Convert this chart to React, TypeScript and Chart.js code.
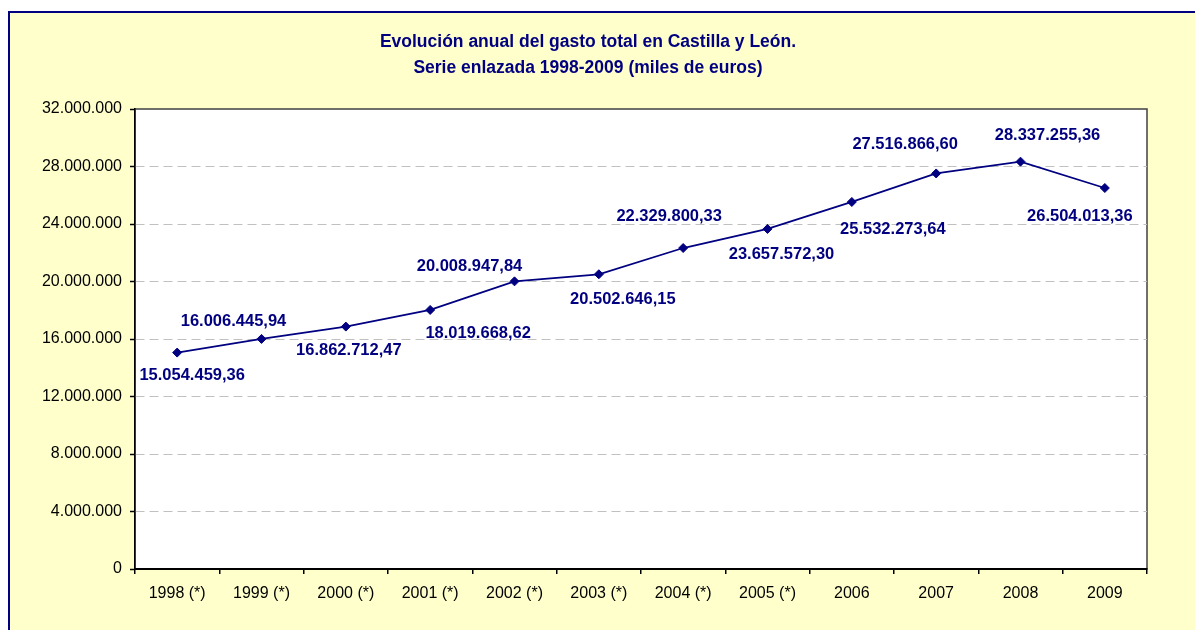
import React, { useEffect, useRef } from "react";
import { Chart, registerables } from "chart.js";

Chart.register(...registerables);

const TITLE_LINES = [
  "Evolución anual del gasto total en Castilla y León.",
  "Serie enlazada 1998-2009 (miles de euros)",
];

const CATEGORIES = [
  "1998 (*)", "1999 (*)", "2000 (*)", "2001 (*)", "2002 (*)", "2003 (*)",
  "2004 (*)", "2005 (*)", "2006", "2007", "2008", "2009",
];

const GASTO_TOTAL = [
  15054459.36, 16006445.94, 16862712.47, 18019668.62, 20008947.84, 20502646.15,
  22329800.33, 23657572.3, 25532273.64, 27516866.6, 28337255.36, 26504013.36,
];

const Y_MIN = 0;
const Y_MAX = 32000000;
const Y_STEP = 4000000;

// label placement relative to each point (pixels)
const LABEL_DX = [15, -28, 3, 48, -45, 24, -14, 14, 41, -31, 27, -25];
const LABEL_DY = [23, -17, 24, 23, -15, 25, -32, 26, 27, -29, -26, 28];

const NAVY = "#000080";
const FONT = "'Liberation Sans', Arial, sans-serif";

function groupThousands(s: string) {
  return s.replace(/\B(?=(\d{3})+(?!\d))/g, ".");
}
function fmtInt(n: number) {
  return groupThousands(Math.round(n).toString());
}
function fmtDec(n: number) {
  const [i, d] = n.toFixed(2).split(".");
  return groupThousands(i) + "," + d;
}

const framePlugin = {
  id: "frame",
  beforeDraw(chart: any) {
    const { ctx, chartArea } = chart;
    const { left, top, right, bottom } = chartArea;
    ctx.save();
    ctx.fillStyle = "#FFFFFF";
    ctx.fillRect(left, top, right - left, bottom - top);
    ctx.strokeStyle = "#404040";
    ctx.lineWidth = 1.5;
    ctx.strokeRect(left, top, right - left, bottom - top);
    // title
    ctx.fillStyle = NAVY;
    ctx.font = `bold 17.5px ${FONT}`;
    ctx.textAlign = "center";
    ctx.textBaseline = "alphabetic";
    ctx.fillText(TITLE_LINES[0], 578, 33.7);
    ctx.fillText(TITLE_LINES[1], 578, 60.3);
    ctx.restore();
  },
};

const labelPlugin = {
  id: "pointLabels",
  afterDatasetsDraw(chart: any) {
    const { ctx } = chart;
    const meta = chart.getDatasetMeta(0);
    ctx.save();
    ctx.fillStyle = NAVY;
    ctx.font = `bold 16.5px ${FONT}`;
    ctx.textAlign = "center";
    ctx.textBaseline = "middle";
    meta.data.forEach((pt: any, i: number) => {
      ctx.fillText(fmtDec(GASTO_TOTAL[i]), pt.x + LABEL_DX[i], pt.y + LABEL_DY[i]);
    });
    ctx.restore();
  },
};

export default function App() {
  const ref = useRef<HTMLCanvasElement | null>(null);

  useEffect(() => {
    if (!ref.current) return;
    const chart = new Chart(ref.current, {
      type: "line",
      data: {
        labels: CATEGORIES,
        datasets: [
          {
            data: GASTO_TOTAL,
            borderColor: NAVY,
            backgroundColor: NAVY,
            borderWidth: 1.8,
            pointStyle: "rectRot",
            pointRadius: 4.5,
            pointBorderWidth: 1,
            pointBackgroundColor: NAVY,
            pointBorderColor: NAVY,
            tension: 0,
            fill: false,
          },
        ],
      },
      options: {
        responsive: false,
        animation: false,
        devicePixelRatio: 1,
        layout: { padding: { left: 0, right: 48, top: 96, bottom: 0 } },
        plugins: {
          legend: { display: false },
          title: { display: false },
          tooltip: { enabled: false },
        },
        scales: {
          x: {
            type: "category",
            offset: true,
            grid: {
              offset: true,
              drawOnChartArea: false,
              drawTicks: true,
              tickLength: 5,
              tickColor: "#000000",
              lineWidth: 1.5,
            },
            border: { color: "#000000", width: 2 },
            ticks: {
              color: "#000000",
              font: { family: FONT, size: 16 },
              padding: 10,
              maxRotation: 0,
              autoSkip: false,
            },
            afterFit(scale: any) {
              scale.height = 61;
            },
          },
          y: {
            min: Y_MIN,
            max: Y_MAX,
            grid: {
              color: (c: any) =>
                c.tick && (c.tick.value === Y_MIN || c.tick.value === Y_MAX)
                  ? "rgba(0,0,0,0)"
                  : "#C0C0C0",
              lineWidth: 1,
              tickLength: 5,
              tickColor: "#000000",
              tickWidth: 1.5,
            },
            border: { color: "#000000", width: 1.5, dash: [9, 5] },
            ticks: {
              stepSize: Y_STEP,
              color: "#000000",
              font: { family: FONT, size: 16 },
              padding: 8,
              callback: (v: any) => fmtInt(Number(v)),
            },
            afterFit(scale: any) {
              scale.width = 125;
            },
          },
        },
      },
      plugins: [framePlugin, labelPlugin],
    });
    return () => chart.destroy();
  }, []);

  return (
    <div
      style={{
        position: "fixed",
        left: 0,
        top: 0,
        width: 1195,
        height: 630,
        overflow: "hidden",
        background: "#FFFFFF",
      }}
    >
      <div
        style={{
          position: "absolute",
          left: 8,
          top: 11,
          width: 1220,
          height: 640,
          background: "#FFFFCC",
          border: `2px solid ${NAVY}`,
          boxSizing: "border-box",
        }}
      >
        <canvas
          ref={ref}
          width={1185}
          height={617}
          style={{ position: "absolute", left: 0, top: 0, width: 1185, height: 617 }}
        />
      </div>
    </div>
  );
}
